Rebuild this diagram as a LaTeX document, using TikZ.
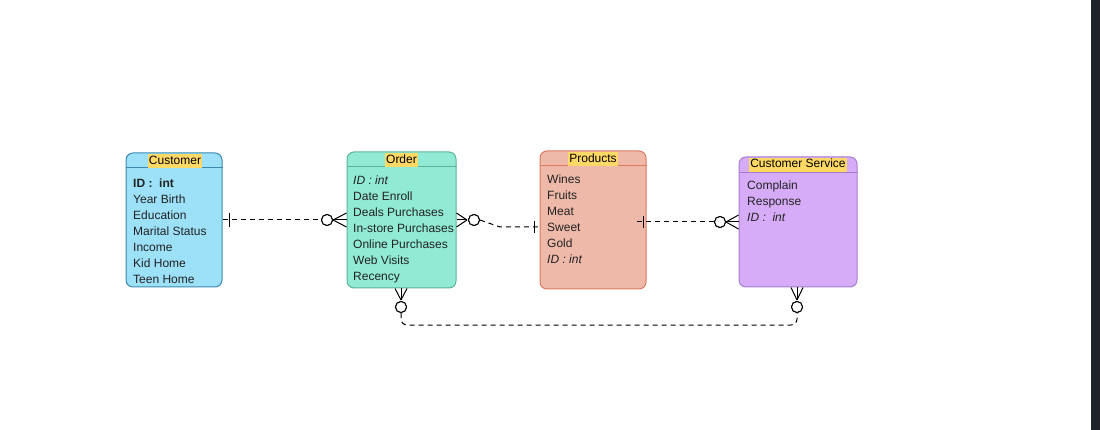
\documentclass[tikz,border=0pt]{standalone}
\usepackage{fontspec}
\setmainfont{Liberation Sans}
\usepackage{xcolor}
\usetikzlibrary{positioning}
\definecolor{custfill}{HTML}{9CE1F8}
\definecolor{custline}{HTML}{3C88B0}
\definecolor{orderfill}{HTML}{91EAD4}
\definecolor{orderline}{HTML}{5EB39A}
\definecolor{prodfill}{HTML}{EEB9A9}
\definecolor{prodline}{HTML}{D97B5E}
\definecolor{servfill}{HTML}{D6ACF8}
\definecolor{servline}{HTML}{A67DD0}
\definecolor{titlefill}{HTML}{FFD966}
\definecolor{attrtext}{HTML}{222222}
\definecolor{sidebar}{HTML}{1F2329}
\tikzset{%
  entity/.style={
    draw,
    rounded corners=7pt,
    line width=1pt
  },
  title/.style={
    fill=titlefill,
    inner xsep=1pt,
    inner ysep=1pt,
    text height=9pt,
    text depth=3pt,
    font=\fontsize{12}{14}\selectfont
  },
  attr/.style={
    anchor=west,
    inner sep=0pt,
    text height=9pt,
    text depth=3pt,
    text=attrtext,
    font=\fontsize{12}{14}\selectfont
  },
  relation/.style={
    line width=1pt,
    dash pattern=on 5pt off 4pt
  },
  foot/.style={
    line width=1pt
  },
  zero/.style={
    circle,
    draw,
    fill=white,
    line width=1pt,
    minimum size=11pt,
    inner sep=0pt
  },
}

\begin{document}
\begin{tikzpicture}[x=1pt, y=-1pt]

    \useasboundingbox (0,0) rectangle (1100,430);
    \fill [sidebar] (1091,0) rectangle (1100,430);

    % entities
    \node [entity, draw=custline, fill=custfill, minimum width=96pt, minimum height=134pt] (customer) at (174,220) {};
    \node [entity, draw=orderline, fill=orderfill, minimum width=109pt, minimum height=136pt] (order) at (401.5,220) {};
    \node [entity, draw=prodline, fill=prodfill, minimum width=106pt, minimum height=138pt] (products) at (593,220) {};
    \node [entity, draw=servline, fill=servfill, minimum width=118pt, minimum height=130pt] (service) at (798,222) {};

    \draw [custline] (customer.west |- 0,167) -- (customer.east |- 0,167);
    \draw [orderline] (order.west |- 0,166) -- (order.east |- 0,166);
    \draw [prodline] (products.west |- 0,165) -- (products.east |- 0,165);
    \draw [servline] (service.west |- 0,172) -- (service.east |- 0,172);

    \node [title] (customer-title) at (175,161.5) {Customer};
    \node [title] (order-title) at (401.5,160.5) {Order};
    \node [title] (products-title) at (593,159.5) {Products};
    \node [title] (service-title) at (798,165) {Customer Service};

    % attributes
    \foreach \a [count=\i from 0] in {{\textbf{ID :\ \ int}}, Year Birth, Education, Marital Status, Income, Kid Home, Teen Home}
    \node [attr] (customer-\i) at (133,184.5+16*\i) {\a};

    \foreach \a [count=\i from 0] in {{\textit{ID : int}}, Date Enroll, Deals Purchases, In-store Purchases, Online Purchases, Web Visits, Recency}
    \node [attr] (order-\i) at (353,181.5+16*\i) {\a};

    \foreach \a [count=\i from 0] in {Wines, Fruits, Meat, Sweet, Gold, {\textit{ID : int}}}
    \node [attr] (products-\i) at (547,180.5+16*\i) {\a};

    \foreach \a [count=\i from 0] in {Complain, Response, {\textit{ID :\ \ int}}}
    \node [attr] (service-\i) at (747,186.5+16*\i) {\a};

    % relations
    \node [zero] (zero-a) at (327,220) {};
    \node [zero] (zero-b) at (474,220) {};
    \node [zero] (zero-c) at (720,222) {};
    \node [zero] (zero-d) at (401,307) {};
    \node [zero] (zero-e) at (797,307) {};

    \draw [relation] (customer.east |- zero-a) -- (zero-a);
    \draw [foot] (229,213) -- (229,227);
    \foreach \dy in {-7,0,7}
        \draw [foot] (zero-a.east) -- ([yshift=-\dy pt]order.west |- zero-a);

    \foreach \dy in {-7,0,7}
        \draw [foot] ([yshift=-\dy pt]order.east |- zero-b) -- (467,220);
    \draw [relation] (zero-b.east) -- (500,227) -- (products.west |- 0,227);
    \draw [foot] (534,221) -- (534,233);

    \draw [relation] (637,222) -- (zero-c);
    \draw [foot] (643,216) -- (643,228);
    \foreach \dy in {-7,0,7}
        \draw [foot] (zero-c.east) -- ([yshift=-\dy pt]service.west |- zero-c);

    \foreach \dx in {-6,0,6}
        \draw [foot] ([xshift=\dx pt]order.south -| zero-d) -- (401,300);
    \foreach \dx in {-6,0,6}
        \draw [foot] ([xshift=\dx pt]service.south -| zero-e) -- (797,300);
    \draw [relation, rounded corners=6pt] (zero-d.south) -- (401,325) -- (797,325) -- (zero-e.south);

    \node [zero] at (zero-a) {};
    \node [zero] at (zero-b) {};
    \node [zero] at (zero-c) {};
    \node [zero] at (zero-d) {};
    \node [zero] at (zero-e) {};

\end{tikzpicture}
\end{document}
